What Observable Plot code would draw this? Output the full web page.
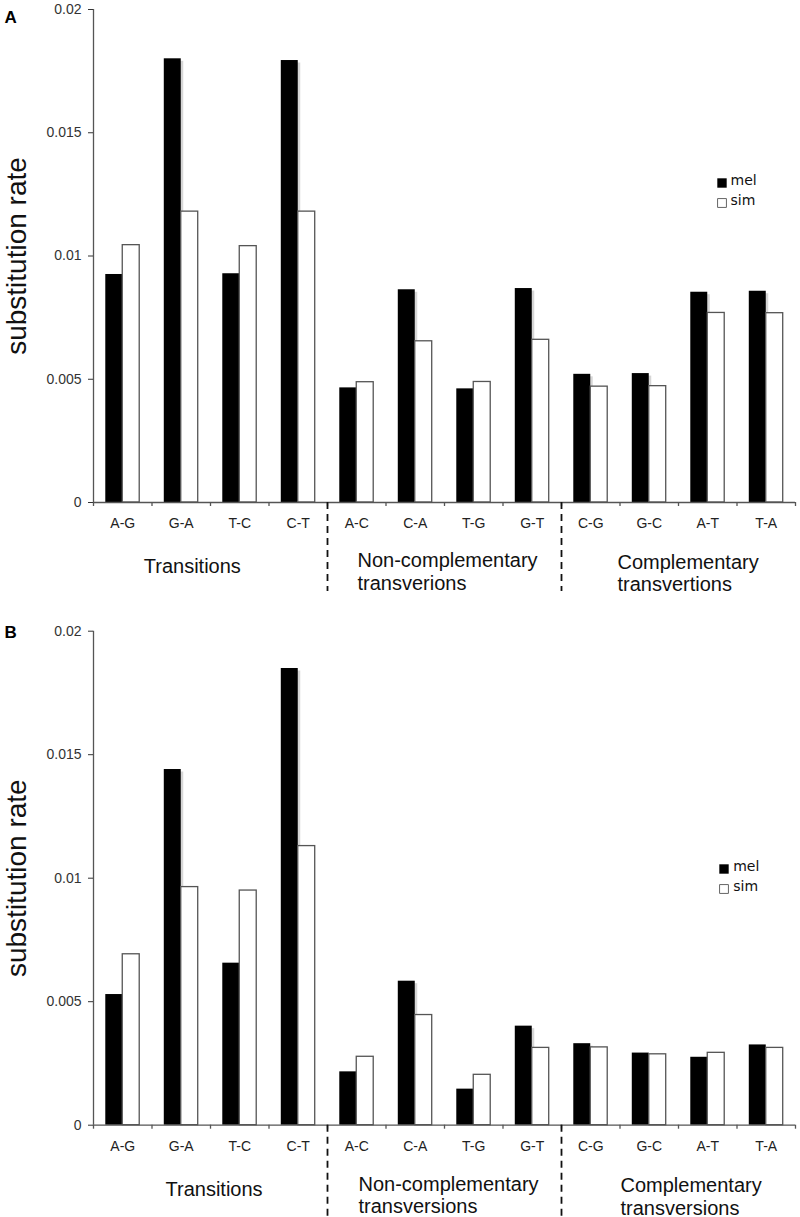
<!DOCTYPE html>
<html><head><meta charset="utf-8">
<script src="https://cdn.jsdelivr.net/npm/d3@7"></script>
<script src="https://cdn.jsdelivr.net/npm/@observablehq/plot@0.6"></script>
<style>html,body{margin:0;padding:0;background:#fff;} svg{display:block;}</style>
</head><body><div id="chart"></div>
<script>
// ---- data ----
const categories = ["A-G","G-A","T-C","C-T","A-C","C-A","T-G","G-T","C-G","G-C","A-T","T-A"];
const groupFirst = ["A-G","A-C","C-G"];
const groupStarts = ["A-C","C-G"];
const groupLabelsA = ["Transitions","Non-complementary\ntransverions","Complementary\ntransvertions"];
const groupLabelsB = ["Transitions","Non-complementary\ntransversions","Complementary\ntransversions"];
const series = ["mel","sim"];
const melA = [0.00925,0.0180,0.00928,0.01793,0.00465,0.00863,0.00461,0.00868,0.00520,0.00523,0.00853,0.00857];
const simA = [0.01044,0.0118,0.0104,0.0118,0.00488,0.00654,0.00489,0.0066,0.0047,0.00472,0.00769,0.00768];
const melB = [0.00529,0.0144,0.00656,0.01849,0.00216,0.00583,0.00146,0.00401,0.0033,0.00292,0.00275,0.00325];
const simB = [0.00692,0.00964,0.0095,0.0113,0.00277,0.00446,0.00204,0.00313,0.00315,0.00287,0.00293,0.00313];
const yTicks = [0,0.005,0.01,0.015,0.02];
const yMax = 0.02;
const yLabel = "substitution rate";

// ---- layout ----
const W = 800, ML = 93, MR = 5;
const step = (W - ML - MR) / categories.length;
const padIn = 0.42, padOut = padIn / 2;
const bw = step * (1 - padIn);
const axisColor = "#555";
const sans = "'Liberation Sans', Arial, sans-serif";

function panel(cfg) {
  const rows = categories.map((c, i) => ({cat: c, mel: cfg.mel[i], sim: cfg.sim[i]}));
  const innerH = cfg.height - cfg.mt - cfg.mb;
  const v = px => px * yMax / innerH;
  const groups = groupFirst.map((f, i) => ({first: f, label: cfg.groups[i]}));
  const marks = [
    // shadow of black bars
    Plot.barY(rows, {x: "cat", y: "mel", insetRight: bw / 2, dx: 2.5, dy: 2.5, insetBottom: 2.5, fill: "#d6d6d6"}),
    Plot.barY(rows, {x: "cat", y: "mel", insetRight: bw / 2, fill: "#000"}),
    Plot.barY(rows, {x: "cat", y: "sim", insetLeft: bw / 2, fill: "#fff", stroke: "#555", strokeWidth: 1.3}),
    Plot.ruleY([0], {stroke: axisColor, strokeWidth: 1.3}),
    Plot.ruleX([categories[0]], {x: d => d, dx: -step / 2, y1: 0, y2: yMax, stroke: axisColor, strokeWidth: 1.3}),
    Plot.ruleX(categories, {x: d => d, dx: -step / 2, y1: 0, y2: -v(4), stroke: axisColor, strokeWidth: 1.3}),
    Plot.ruleX([categories[categories.length - 1]], {x: d => d, dx: step / 2, y1: 0, y2: -v(4), stroke: axisColor, strokeWidth: 1.3}),
    Plot.ruleX(groupStarts, {x: d => d, dx: -step / 2, y1: 0, y2: -v(cfg.dashLen), stroke: "#111", strokeWidth: 1.8, strokeDasharray: "7,5"}),
    Plot.axisY(yTicks, {tickSize: 5, tickPadding: 7, tickFormat: d => String(d), fontSize: 14, color: "#333", label: null, fontFamily: sans}),
    Plot.text(categories, {x: d => d, y: () => 0, text: d => d, dy: 16, lineAnchor: "top", textAnchor: "middle", fontSize: 14, fill: "#222", fontFamily: sans}),
    Plot.text([yLabel], {frameAnchor: "left", text: d => d, rotate: -90, dx: -68, textAnchor: "middle", lineAnchor: "bottom", fontSize: 28, fill: "#111", fontFamily: sans}),
    Plot.text([cfg.letter], {frameAnchor: "top-left", text: d => d, dx: -89, dy: cfg.letterDy, textAnchor: "start", lineAnchor: "top", fontWeight: "bold", fontSize: 17, fill: "#000", fontFamily: sans}),
    ...groups.map((g, i) => Plot.text([g], {x: "first", y: () => 0, text: "label", dx: cfg.groupDx[i], dy: cfg.groupDy[i], textAnchor: "start", lineAnchor: "top", lineHeight: 1.12, fontSize: 20, fill: "#111", fontFamily: sans})),
    ...series.flatMap((s, i) => [
      Plot.dot([s], {frameAnchor: "top-right", dx: cfg.legDx, dy: cfg.legDy + i * 20, symbol: "square", r: i ? 5 : 5.3, fill: i ? "#fff" : "#000", stroke: i ? "#666" : "none", strokeWidth: 1}),
      Plot.text([s], {frameAnchor: "top-right", text: d => d, dx: cfg.legTextDx, dy: cfg.legDy - 2.5 + i * 20, textAnchor: "start", lineAnchor: "middle", fontSize: 14, fill: "#111", fontFamily: "'DejaVu Sans', Verdana, sans-serif"})
    ])
  ];
  return Plot.plot({
    width: W, height: cfg.height,
    marginLeft: ML, marginRight: MR, marginTop: cfg.mt, marginBottom: cfg.mb,
    x: {domain: categories, paddingInner: padIn, paddingOuter: padOut, align: 0.5, round: false, axis: null},
    y: {domain: [0, yMax]},
    style: {fontFamily: sans, fontSize: "14px", background: "#fff", overflow: "visible"},
    marks
  });
}

const chart = document.getElementById("chart");
chart.append(panel({
  letter: "A", mel: melA, sim: simA, groups: groupLabelsA,
  height: 608, mt: 9, mb: 106, dashLen: 89, letterDy: 1,
  legDx: -73.5, legDy: 173.5, legTextDx: -65,
  groupDx: [21, 0.75, 26.75], groupDy: [54.8, 48.8, 50.5]
}));
chart.append(panel({
  letter: "B", mel: melB, sim: simB, groups: groupLabelsB,
  height: 609, mt: 22.7, mb: 92.3, dashLen: 92.3, letterDy: -5.7,
  legDx: -71.5, legDy: 237.8, legTextDx: -62.3,
  groupDx: [42.75, 1.75, 29.75], groupDy: [54.4, 49.4, 51.1]
}));
</script>
</body></html>
